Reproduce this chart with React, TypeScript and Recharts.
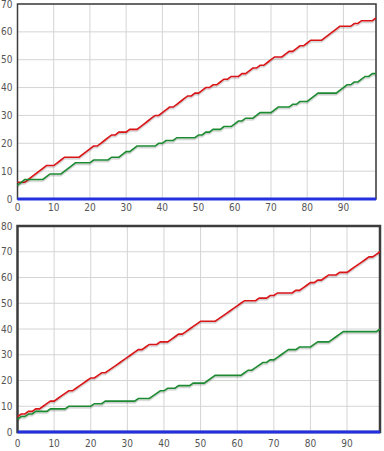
import { CartesianGrid, Line, LineChart, ReferenceArea, XAxis, YAxis } from "recharts";

const steps = Array.from({ length: 100 }, (_, i) => i);
const xTicks = [0, 10, 20, 30, 40, 50, 60, 70, 80, 90];
const yTicksTop = [0, 10, 20, 30, 40, 50, 60, 70];
const yTicksBottom = [0, 10, 20, 30, 40, 50, 60, 70, 80];

const redTop = [
  6, 6, 6, 7, 8, 9, 10, 11, 12, 12,
  12, 13, 14, 15, 15, 15, 15, 15, 16, 17,
  18, 19, 19, 20, 21, 22, 23, 23, 24, 24,
  24, 25, 25, 25, 26, 27, 28, 29, 30, 30,
  31, 32, 33, 33, 34, 35, 36, 37, 37, 38,
  38, 39, 40, 40, 41, 41, 42, 43, 43, 44,
  44, 44, 45, 45, 46, 47, 47, 48, 48, 49,
  50, 51, 51, 51, 52, 53, 53, 54, 55, 55,
  56, 57, 57, 57, 57, 58, 59, 60, 61, 62,
  62, 62, 62, 63, 63, 64, 64, 64, 64, 65,
];
const greenTop = [
  5, 6, 7, 7, 7, 7, 7, 7, 8, 9,
  9, 9, 9, 10, 11, 12, 13, 13, 13, 13,
  13, 14, 14, 14, 14, 14, 15, 15, 15, 16,
  17, 17, 18, 19, 19, 19, 19, 19, 19, 20,
  20, 21, 21, 21, 22, 22, 22, 22, 22, 22,
  23, 23, 24, 24, 25, 25, 25, 26, 26, 26,
  27, 28, 28, 29, 29, 29, 30, 31, 31, 31,
  31, 32, 33, 33, 33, 33, 34, 34, 35, 35,
  35, 36, 37, 38, 38, 38, 38, 38, 38, 39,
  40, 41, 41, 42, 42, 43, 44, 44, 45, 45,
];
const redBottom = [
  6, 7, 7, 8, 8, 9, 9, 10, 11, 12,
  12, 13, 14, 15, 16, 16, 17, 18, 19, 20,
  21, 21, 22, 23, 23, 24, 25, 26, 27, 28,
  29, 30, 31, 32, 32, 33, 34, 34, 34, 35,
  35, 35, 36, 37, 38, 38, 39, 40, 41, 42,
  43, 43, 43, 43, 43, 44, 45, 46, 47, 48,
  49, 50, 51, 51, 51, 51, 52, 52, 52, 53,
  53, 54, 54, 54, 54, 54, 55, 55, 56, 57,
  58, 58, 59, 59, 60, 61, 61, 61, 62, 62,
  62, 63, 64, 65, 66, 67, 68, 68, 69, 70,
];
const greenBottom = [
  5, 6, 6, 7, 7, 8, 8, 8, 8, 9,
  9, 9, 9, 9, 10, 10, 10, 10, 10, 10,
  10, 11, 11, 11, 12, 12, 12, 12, 12, 12,
  12, 12, 12, 13, 13, 13, 13, 14, 15, 16,
  16, 17, 17, 17, 18, 18, 18, 18, 19, 19,
  19, 19, 20, 21, 22, 22, 22, 22, 22, 22,
  22, 22, 23, 24, 24, 25, 26, 27, 27, 28,
  28, 29, 30, 31, 32, 32, 32, 33, 33, 33,
  33, 34, 35, 35, 35, 35, 36, 37, 38, 39,
  39, 39, 39, 39, 39, 39, 39, 39, 39, 40,
];
const blueBase = steps.map(() => 0);

const topData = steps.map((x, i) => ({ x, red: redTop[i], green: greenTop[i], blue: blueBase[i] }));
const bottomData = steps.map((x, i) => ({ x, red: redBottom[i], green: greenBottom[i], blue: blueBase[i] }));

const tickStyle = {
  fill: "#555",
  fontSize: 10,
  fontFamily: "'Liberation Sans Narrow', 'DejaVu Sans Condensed', 'Liberation Sans', sans-serif",
};

function Panel({
  data,
  height,
  top,
  yMax,
  yTicks,
  marginRight,
  xTickMargin,
  frameWidth,
}: {
  data: typeof topData;
  height: number;
  top: number;
  yMax: number;
  yTicks: number[];
  marginRight: number;
  xTickMargin: number;
  frameWidth: number;
}) {
  return (
    <div style={{ position: "absolute", left: 0, top }}>
      <LineChart width={384} height={height} data={data} margin={{ top: top === 0 ? 4 : 12, right: marginRight, bottom: 0, left: 0 }}>
        <defs>
          <filter id={`sh${top}`} x="-5%" y="-5%" width="110%" height="120%">
            <feDropShadow dx="0" dy="1.5" stdDeviation="0.7" floodColor="#000" floodOpacity="0.22" />
          </filter>
        </defs>
        <CartesianGrid stroke="#d4d4d4" strokeWidth={1} />
        <XAxis
          dataKey="x"
          type="number"
          domain={[0, 99]}
          ticks={xTicks}
          tick={tickStyle}
          tickLine={false}
          axisLine={false}
          tickSize={0}
          tickMargin={xTickMargin}
          height={height - (top === 0 ? 199 : 432 - top)}
          interval={0}
        />
        <YAxis
          type="number"
          domain={[0, yMax]}
          ticks={yTicks}
          tick={tickStyle}
          tickLine={false}
          axisLine={false}
          tickSize={0}
          tickMargin={5}
          width={17.5}
          interval={0}
        />
        <ReferenceArea x1={0} x2={99} y1={0} y2={yMax} fill="none" stroke="#3c3c3c" strokeWidth={frameWidth} ifOverflow="visible" />
        <Line dataKey="red" stroke="#d81418" strokeWidth={1.6} dot={false} isAnimationActive={false} filter={`url(#sh${top})`} />
        <Line dataKey="green" stroke="#1e8a30" strokeWidth={1.6} dot={false} isAnimationActive={false} filter={`url(#sh${top})`} />
        <Line dataKey="blue" stroke="#2230e0" strokeWidth={3} dot={false} isAnimationActive={false} />
      </LineChart>
    </div>
  );
}

export default function App() {
  return (
    <div style={{ position: "absolute", left: 0, top: 0, width: 384, height: 451, background: "#fff" }}>
      <Panel data={topData} height={214} top={0} yMax={70} yTicks={yTicksTop} marginRight={8} xTickMargin={5} frameWidth={1.5} />
      <Panel data={bottomData} height={237} top={214} yMax={80} yTicks={yTicksBottom} marginRight={4} xTickMargin={8} frameWidth={2.5} />
    </div>
  );
}
